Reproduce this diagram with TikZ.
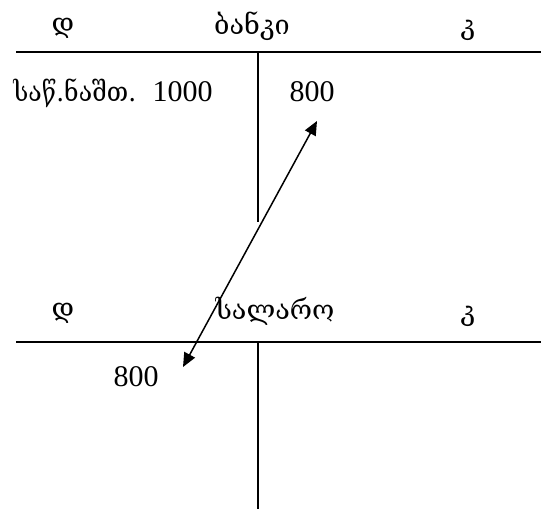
\documentclass[tikz,border=0pt]{standalone}
\usepackage{fontspec}
\setmainfont{Liberation Serif}
\newfontfamily\geofont{DejaVu Serif}
\usetikzlibrary{arrows.meta}

\tikzset{
  acct/.style={line width=1pt},
  num/.style={font=\fontsize{15}{18}\selectfont, inner sep=0pt},
  geo/.style={font=\geofont\fontsize{13.5}{16}\selectfont, inner sep=0pt},
}

\begin{document}
\begin{tikzpicture}[x=0.5pt,y=-0.5pt]
  \useasboundingbox (0,0) rectangle (541,509);
  %
  % account: bank
  \draw[acct] (16,52) -- (541,52);
  \draw[acct] (258,52) -- (258,222);
  \node[geo] (bankD) at (63,28) {დ};
  \node[geo] (bankName) at (252,26) {ბანკი};
  \node[geo] (bankK) at (468,30) {კ};
  \node[geo, anchor=west, xscale=0.92] (bankRest) at (13,93) {საწ.ნაშთ.};
  \node[num, anchor=east] (bankOpen) at (213,92) {1000};
  \node[num] (bankCr) at (312,92) {800};
  %
  % account: cash
  \draw[acct] (16,342) -- (541,342);
  \draw[acct] (258,342) -- (258,509);
  \node[geo] (cashD) at (63,313) {დ};
  \node[geo] (cashName) at (275,311) {სალარო};
  \node[geo] (cashK) at (468,316) {კ};
  \node[num] (cashDb) at (136,377) {800};
  %
  \coordinate (from) at (317,121);
  \coordinate (to) at (183,367);
  \draw[line width=0.75pt, {Triangle[length=7pt,width=6pt]}-{Triangle[length=7pt,width=6pt]}] (from) -- (to);
  %
\end{tikzpicture}
\end{document}
